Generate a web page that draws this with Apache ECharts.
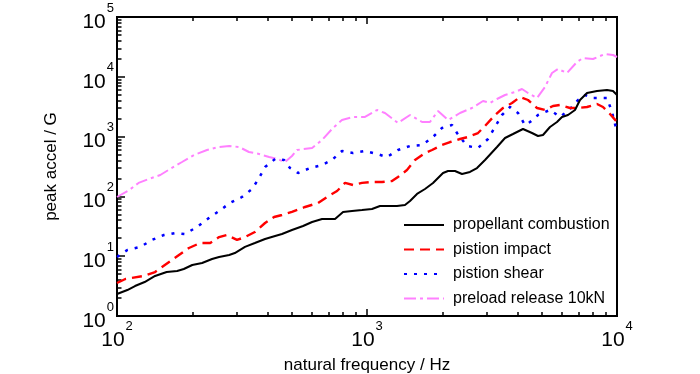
<!DOCTYPE html>
<html><head><meta charset="utf-8">
<script src="https://cdn.jsdelivr.net/npm/echarts@6/dist/echarts.min.js"></script>
<style>html,body{margin:0;padding:0;background:#fff}#c{width:700px;height:374px}</style>
</head><body><div id="c"></div>
<script>
const seriesNames = ['propellant combustion', 'pistion impact', 'pistion shear', 'preload release 10kN'];

const combustionFreq = [100,110,118,129,142,158,174,185,200,219,240,256,281,296,325,356,391,429,457,501,555,603,661,745,802,871,955,1047,1127,1318,1419,1486,1585,1706,1837,2014,2109,2249,2399,2582,2754,2965,3311,3565,3837,4207,4571,4831,5058,5395,5754,6026,6368,6792,7112,7586,8318,9120,9638,10000];
const combustionAccel = [2.33,2.72,3.17,3.70,4.67,5.44,5.66,6.11,7.13,7.70,8.98,9.70,10.5,11.3,14.3,16.6,19.4,21.8,23.5,27.4,32.0,37.3,41.9,41.9,54.8,57.0,59.2,61.6,69.1,69.1,71.8,83.8,110,133,168,246,266,266,237,256,298,406,670,948,1105,1340,1148,1023,1064,1448,1754,2128,2297,2786,4093,5358,5790,6015,5790,4963];

const impactFreq = [100,108,128,142,166,194,215,236,256,275,302,325,356,391,425,457,501,565,637,692,759,817,879,955,1047,1148,1259,1330,1445,1556,1706,1820,1995,2148,2355,2535,2780,2965,3251,3499,3802,4093,4406,4786,5152,5546,5916,6486,6918,7586,8318,8790,9376,10000];
const impactAccel = [3.56,4.16,4.67,5.44,8.64,13.7,16.6,16.6,20.9,22.6,18.7,20.9,25.4,35.9,45.2,48.9,55,66.5,77.6,97.7,123,168,155,168,174,174,181,211,276,406,532,597,724,812,912,985,1148,1504,2297,3007,3648,4592,4093,3007,2786,3250,3375,3007,3007,3126,3508,3126,2388,1754];

const shearFreq = [100,110,124,138,154,171,187,209,233,256,283,316,347,370,391,429,466,492,530,592,661,724,794,879,982,1096,1202,1330,1486,1660,1820,1995,2188,2291,2512,2780,3048,3251,3467,3733,4018,4285,4487,4831,5395,5916,6486,6982,7447,7943,9120,9550,10000];
const shearAccel = [9.70,12.7,14.3,18.7,22.6,24.4,23.5,30.8,43.5,57.0,77.6,97.7,133,203,310,422,406,298,246,298,335,406,574,532,574,512,456,597,697,724,948,1393,1563,1148,697,645,912,1448,2297,3126,2483,1563,1754,2297,2786,2128,2897,4093,4963,4419,4419,2578,1194];

const preloadFreq = [100,112,122,134,149,163,182,203,229,256,281,308,337,370,406,437,470,501,525,603,661,731,794,879,982,1096,1180,1330,1486,1660,1786,1923,2109,2249,2355,2630,2911,3105,3311,3565,3908,4169,4406,4786,5152,5495,5808,6310,6918,7311,8017,8954,9638,10000];
const preloadAccel = [97.7,128,168,196,228,287,376,492,597,670,697,670,553,512,456,422,376,474,597,645,877,1393,1896,2128,2128,2786,2483,1688,2297,1754,1754,2680,1896,2209,2483,3007,3939,3648,4253,4963,5570,6252,5358,4419,6748,11580,13500,11580,17680,20620,19850,24050,23160,21430];

const xTickExponents = [2, 3, 4];
const yTickExponents = [0, 1, 2, 3, 4, 5];

function minorLogTicks(exps) {
  const out = [];
  for (let i = 0; i < exps.length - 1; i++) {
    for (let k = 2; k <= 9; k++) out.push(exps[i] + Math.log10(k));
  }
  return out;
}
const xMinor = minorLogTicks(xTickExponents);
const yMinor = minorLogTicks(yTickExponents);

const narrow = "'Liberation Sans Narrow','Arial Narrow','Liberation Sans',Arial,sans-serif";
const sans = "'Liberation Sans',Arial,sans-serif";
const powRich = {
  b: { fontSize: 21, fontFamily: narrow, color: '#000', padding: [10, 0, 0, 0] },
  e: { fontSize: 13, fontFamily: narrow, color: '#000', verticalAlign: 'top', padding: [0, 0, 0, 1] }
};
const powFmt = v => '{b|10}{e|' + Math.round(v) + '}';

function pairs(f, a) { return f.map((x, i) => [x, a[i]]); }

const tickStyle = { color: '#000', width: 1.5 };
function valAxis(pos, min, max, opts) {
  return Object.assign({
    type: 'value', position: pos, min: min, max: max, interval: 1,
    axisLine: { show: false }, splitLine: { show: false },
    axisLabel: { show: false }, axisPointer: { show: false }
  }, opts);
}

const chart = echarts.init(document.getElementById('c'), null, { renderer: 'canvas' });
chart.setOption({
  animation: false,
  backgroundColor: '#fff',
  grid: { left: 117, top: 17, width: 500, height: 299, show: true, borderColor: '#000', borderWidth: 2, backgroundColor: 'transparent', containLabel: false, outerBoundsMode: 'none' },
  legend: {
    orient: 'vertical', left: 403, top: 217, padding: 0, itemWidth: 40, itemHeight: 14, itemGap: 8.5,
    itemStyle: { color: 'transparent', opacity: 0, borderWidth: 0 },
    textStyle: { fontFamily: sans, fontSize: 16, color: '#000', padding: [0, 0, 0, 4] },
    data: seriesNames
  },
  xAxis: [
    { type: 'log', logBase: 10, min: 100, max: 10000, show: false },
    valAxis('bottom', 2, 4, {
      axisTick: { inside: true, length: 7, lineStyle: tickStyle },
      axisLabel: { show: true, formatter: powFmt, rich: powRich, margin: 4 },
      name: 'natural frequency / Hz', nameLocation: 'middle', nameGap: 41,
      nameTextStyle: { fontFamily: sans, fontSize: 17, color: '#000' }
    }),
    valAxis('bottom', 2, 4, { axisTick: { inside: true, length: 4, customValues: xMinor, lineStyle: tickStyle } }),
    valAxis('top', 2, 4, { axisTick: { inside: true, length: 7, lineStyle: tickStyle } }),
    valAxis('top', 2, 4, { axisTick: { inside: true, length: 4, customValues: xMinor, lineStyle: tickStyle } })
  ],
  yAxis: [
    { type: 'log', logBase: 10, min: 1, max: 100000, show: false },
    valAxis('left', 0, 5, {
      axisTick: { inside: true, length: 8, lineStyle: tickStyle },
      axisLabel: { show: true, formatter: powFmt, rich: powRich, margin: 3 },
      name: 'peak accel / G', nameLocation: 'middle', nameGap: 57,
      nameTextStyle: { fontFamily: sans, fontSize: 17, color: '#000' }
    }),
    valAxis('left', 0, 5, { axisTick: { inside: true, length: 4.5, customValues: yMinor, lineStyle: tickStyle } })
  ],
  series: [
    { name: seriesNames[0], type: 'line', xAxisIndex: 0, yAxisIndex: 0, symbol: 'none', z: 5,
      data: pairs(combustionFreq, combustionAccel), lineStyle: { color: '#000', width: 2, type: 'solid' }, itemStyle: { color: '#000' } },
    { name: seriesNames[1], type: 'line', xAxisIndex: 0, yAxisIndex: 0, symbol: 'none', z: 4,
      data: pairs(impactFreq, impactAccel), lineStyle: { color: '#ff0000', width: 2.4, type: [10, 6] }, itemStyle: { color: '#ff0000' } },
    { name: seriesNames[2], type: 'line', xAxisIndex: 0, yAxisIndex: 0, symbol: 'none', z: 3,
      data: pairs(shearFreq, shearAccel), lineStyle: { color: '#0000ff', width: 2.5, type: [3, 7] }, itemStyle: { color: '#0000ff' } },
    { name: seriesNames[3], type: 'line', xAxisIndex: 0, yAxisIndex: 0, symbol: 'none', z: 2,
      data: pairs(preloadFreq, preloadAccel), lineStyle: { color: '#ff80ff', width: 2, type: [12, 4, 3, 4] }, itemStyle: { color: '#ff80ff' } }
  ]
});
</script></body></html>
